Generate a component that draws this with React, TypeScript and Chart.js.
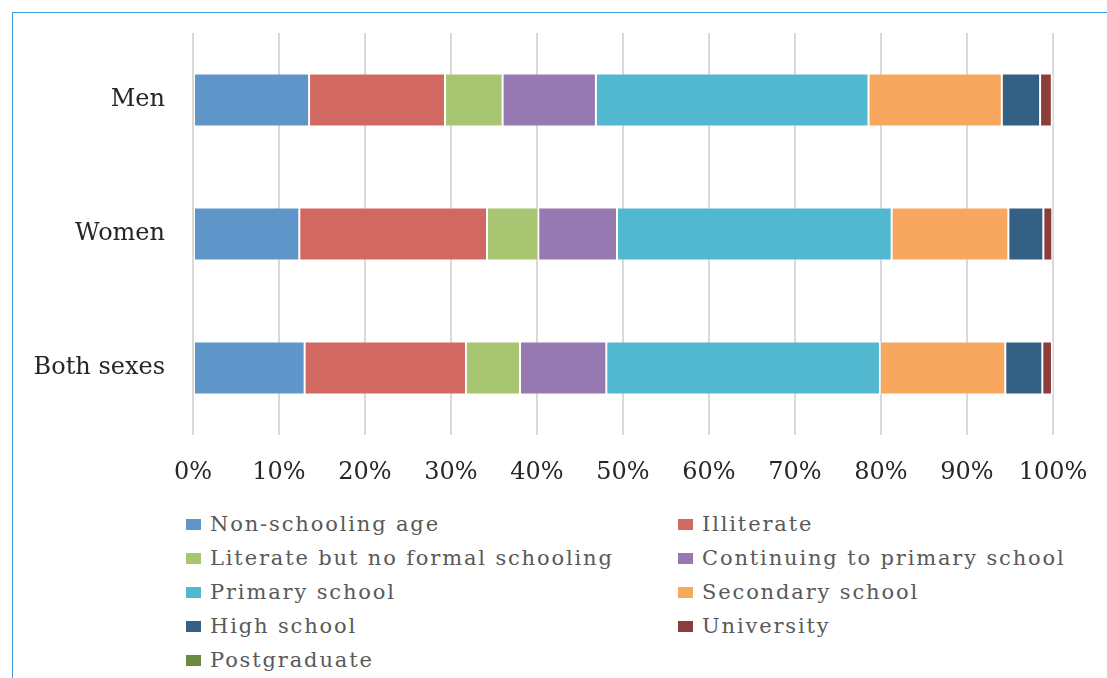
import React, { useEffect, useRef } from "react";
import { Chart, registerables } from "chart.js";

Chart.register(...registerables);

// Population by educational attainment, shares in percent
const categories = ["Men", "Women", "Both sexes"];

const seriesNames = [
  "Non-schooling age",
  "Illiterate",
  "Literate but no formal schooling",
  "Continuing to primary school",
  "Primary school",
  "Secondary school",
  "High school",
  "University",
  "Postgraduate",
];

const seriesColors = [
  "#5f95c9",
  "#d26862",
  "#a8c571",
  "#9579b0",
  "#52b8d0",
  "#f8a85e",
  "#346086",
  "#8b3d3a",
  "#6a8b3e",
];

const nonSchoolingAge = [13.5, 12.36, 12.98];
const illiterate = [15.8, 21.83, 18.76];
const literateNoSchooling = [6.7, 5.96, 6.28];
const continuingPrimary = [10.85, 9.15, 10.04];
const primarySchool = [31.7, 31.94, 31.82];
const secondarySchool = [15.5, 13.57, 14.57];
const highSchool = [4.45, 4.07, 4.31];
const university = [1.36, 1.04, 1.12];
const postgraduate = [0.14, 0.08, 0.12];

const seriesValues = [
  nonSchoolingAge,
  illiterate,
  literateNoSchooling,
  continuingPrimary,
  primarySchool,
  secondarySchool,
  highSchool,
  university,
  postgraduate,
];

const tickValues = [0, 10, 20, 30, 40, 50, 60, 70, 80, 90, 100];

const FONT = "'DejaVu Serif', 'Liberation Serif', serif";

export default function App() {
  const canvasRef = useRef<HTMLCanvasElement | null>(null);

  useEffect(() => {
    const canvas = canvasRef.current;
    if (!canvas) return;
    const chart = new Chart(canvas, {
      type: "bar",
      data: {
        labels: categories,
        datasets: seriesNames.map((name, i) => ({
          label: name,
          data: seriesValues[i],
          backgroundColor: seriesColors[i],
          borderColor: "rgba(255,255,255,0.45)",
          borderWidth: 1,
          borderSkipped: false,
          categoryPercentage: 1,
          barPercentage: 0.395,
        })),
      },
      options: {
        indexAxis: "y",
        responsive: false,
        maintainAspectRatio: false,
        animation: false,
        layout: { padding: { top: 33, right: 54, bottom: 13, left: 0 } },
        plugins: {
          legend: { display: false },
          tooltip: { enabled: false },
          title: { display: false },
        },
        scales: {
          x: {
            stacked: true,
            min: 0,
            max: 100,
            afterBuildTicks: (scale: any) => {
              scale.ticks = tickValues.map((v) => ({ value: v }));
            },
            afterFit: (scale: any) => {
              scale.height = 52;
              scale.paddingLeft = 0;
              scale.paddingRight = 0;
            },
            grid: {
              color: "#d9d9d9",
              lineWidth: 2,
              drawTicks: false,
            },
            border: { display: false },
            ticks: {
              padding: 23,
              color: "#262626",
              font: { family: FONT, size: 24 },
              callback: (v: any) => v + "%",
              maxRotation: 0,
              autoSkip: false,
            },
          },
          y: {
            stacked: true,
            afterFit: (scale: any) => {
              scale.width = 193;
              scale.paddingTop = 0;
              scale.paddingBottom = 0;
            },
            grid: { display: false, drawTicks: false },
            border: { display: false },
            ticks: {
              padding: 28,
              color: "#262626",
              font: { family: FONT, size: 24 },
            },
          },
        },
      },
    });
    return () => chart.destroy();
  }, []);

  return (
    <div
      style={{
        position: "absolute",
        left: 0,
        top: 0,
        width: 1107,
        height: 678,
        overflow: "hidden",
        background: "#ffffff",
      }}
    >
      <div
        style={{
          position: "absolute",
          left: 12,
          top: 12,
          width: 1300,
          height: 800,
          borderLeft: "1.5px solid #3a9ad9",
          borderTop: "1.5px solid #3a9ad9",
        }}
      />
      <canvas
        ref={canvasRef}
        width={1107}
        height={500}
        style={{ position: "absolute", left: 0, top: 0, width: 1107, height: 500 }}
      />
      {seriesNames.map((name, i) => {
        const col = i % 2;
        const row = Math.floor(i / 2);
        return (
          <div
            key={name}
            style={{
              position: "absolute",
              left: col === 0 ? 186 : 678,
              top: 524 + row * 34 - 12,
              height: 24,
              display: "flex",
              alignItems: "center",
              whiteSpace: "nowrap",
            }}
          >
            <span
              style={{
                display: "inline-block",
                width: 15,
                height: 11,
                background: seriesColors[i],
                marginRight: 9,
              }}
            />
            <span
              style={{
                fontFamily: FONT,
                fontSize: 21,
                lineHeight: "24px",
                letterSpacing: "1.85px",
                color: "#595959",
              }}
            >
              {name}
            </span>
          </div>
        );
      })}
    </div>
  );
}
